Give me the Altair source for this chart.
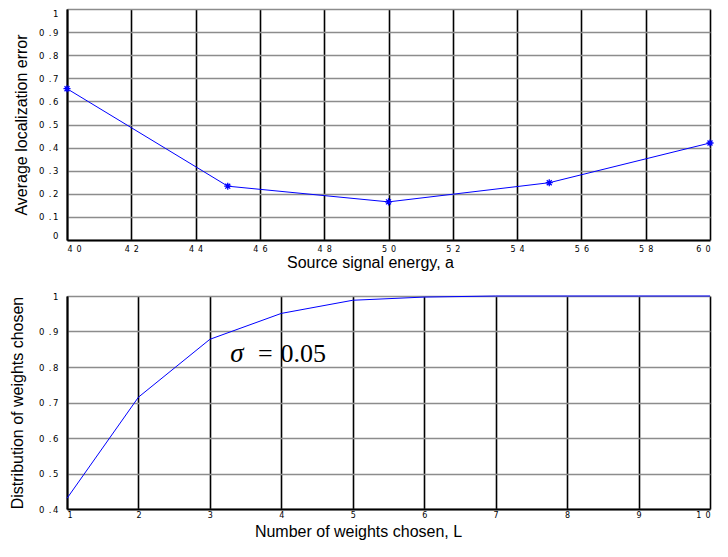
import altair as alt
import pandas as pd

# Top panel data
energy = [40, 45, 50, 55, 60]
loc_error = [0.655, 0.233, 0.165, 0.248, 0.42]

# Bottom panel data
weights = [1, 2, 3, 4, 5, 6, 7, 8, 9, 10]
dist = [0.43, 0.715, 0.878, 0.951, 0.988, 0.997, 1.0, 1.0, 1.0, 1.0]

top_xticks = [40, 42, 44, 46, 48, 50, 52, 54, 56, 58, 60]
top_yticks = [0, 0.1, 0.2, 0.3, 0.4, 0.5, 0.6, 0.7, 0.8, 0.9, 1.0]
bot_xticks = [1, 2, 3, 4, 5, 6, 7, 8, 9, 10]
bot_yticks = [0.4, 0.5, 0.6, 0.7, 0.8, 0.9, 1.0]

ann_text = ["σ", "=", "0.05"]
ann_x = [3.285, 3.672, 3.99]
ann_y = [0.814, 0.814, 0.814]

df_top = pd.DataFrame({"a": energy, "err": loc_error})
df_bot = pd.DataFrame({"L": weights, "d": dist})

FONT = "Liberation Sans"
LFONT = "DejaVu Sans"
BLUE = "#0000ff"
W = 643

xlab = "join(split(toString(datum.value), ''), '\u2002')"
ylab = ("datum.value == 0 ? '0' : datum.value == 1 ? '1' : "
        "'0\u2002.\u2009' + toString(round(datum.value * 10))")


def xaxis(title, values, title_x, lpad, ty):
    return alt.Axis(
        title=title, values=values, labelExpr=xlab, grid=True,
        gridColor="black", gridWidth=1.6, gridOpacity=1,
        ticks=False, domainColor="black", domainWidth=2,
        labelFont=LFONT, labelFontSize=8, labelColor="black", labelPadding=lpad,
        labelFlush=True,
        titleFont=FONT, titleFontSize=16, titleFontWeight="normal",
        titleColor="black", titleX=title_x, titleY=ty, titleAlign="center",
        titleBaseline="alphabetic",
    )


def yaxis(title, values, title_x, flush):
    return alt.Axis(
        title=title, values=values, labelExpr=ylab, grid=True,
        gridColor="#8c8c8c", gridWidth=1.5, gridOpacity=1,
        ticks=False, domainColor="black", domainWidth=2,
        labelFont=LFONT, labelFontSize=8.5, labelColor="black", labelPadding=9,
        labelFlush=flush,
        titleFont=FONT, titleFontSize=16, titleFontWeight="normal",
        titleColor="black", titleX=title_x, titleBaseline="alphabetic",
    )


asterisk = ("M -1 0 L 1 0 M 0 -1 L 0 1 M -0.7 -0.7 L 0.7 0.7 "
            "M -0.7 0.7 L 0.7 -0.7")

xs_top = alt.X("a:Q", scale=alt.Scale(domain=[40, 60], nice=False),
               axis=xaxis("Source signal energy, a", top_xticks, 303, 5, 27))
ys_top = alt.Y("err:Q", scale=alt.Scale(domain=[0, 1], nice=False),
               axis=yaxis("Average localization error", top_yticks, -40.5, True))

top_line = alt.Chart(df_top).mark_line(color=BLUE, strokeWidth=1).encode(x=xs_top, y=ys_top)
top_pts = alt.Chart(df_top).mark_point(
    shape=asterisk, color=BLUE, size=50, strokeWidth=1.3, filled=False, opacity=1
).encode(x=xs_top, y=ys_top)

top = alt.layer(top_line, top_pts).properties(width=W, height=231)

xs_bot = alt.X("L:Q", scale=alt.Scale(domain=[1, 10], nice=False),
               axis=xaxis("Number of weights chosen, L", bot_xticks, 291, 2.5, 27))
ys_bot = alt.Y("d:Q", scale=alt.Scale(domain=[0.4, 1], nice=False),
               axis=yaxis("Distribution of weights chosen", bot_yticks, -45, False))

bot_line = alt.Chart(df_bot).mark_line(color=BLUE, strokeWidth=1).encode(x=xs_bot, y=ys_bot)

ann_df = pd.DataFrame({"L": ann_x, "d": ann_y, "t": ann_text})
sig_txt = alt.Chart(ann_df.iloc[[0]]).mark_text(
    font="Liberation Serif", fontSize=27, fontStyle="italic", align="left",
    baseline="alphabetic", color="black"
).encode(x=xs_bot, y=ys_bot, text="t:N")
rest_txt = alt.Chart(ann_df.iloc[[1, 2]]).mark_text(
    font="Liberation Serif", fontSize=26, align="left",
    baseline="alphabetic", color="black"
).encode(x=xs_bot, y=ys_bot, text="t:N")

bot = alt.layer(bot_line, sig_txt, rest_txt).properties(width=W, height=213)

chart = alt.vconcat(top, bot, spacing=56, bounds="flush").properties(
    padding={"left": 0, "top": 0, "right": 0, "bottom": 0}
).configure_view(stroke="black", strokeWidth=2).configure(background="white")

chart.save("out.html", embed_options={"renderer": "svg", "actions": False})
